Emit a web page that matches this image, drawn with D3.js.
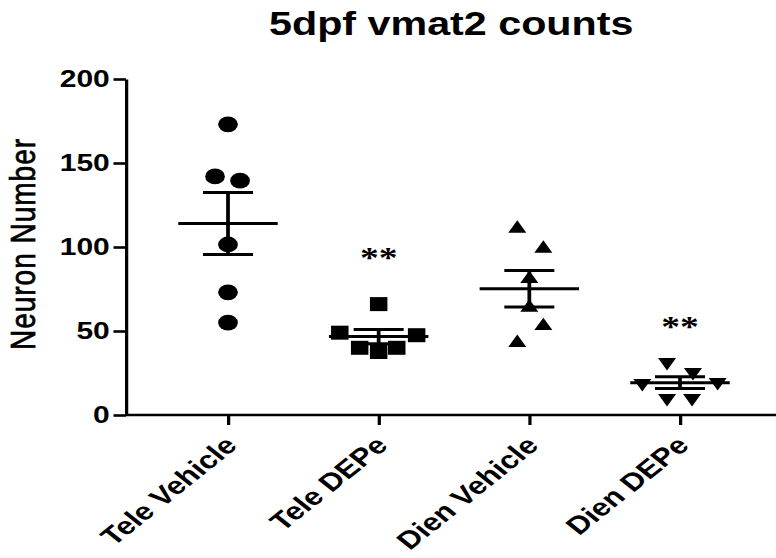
<!DOCTYPE html>
<html lang="en">
<head>
<meta charset="utf-8">
<title>5dpf vmat2 counts</title>
<script src="https://cdn.jsdelivr.net/npm/d3@7"></script>
<style>
  body { margin: 0; background: #fff; }
  .axis path, .axis line { stroke: #000; stroke-width: 2.6; fill: none; }
  .axis text { font-family: "Liberation Sans", Arial, sans-serif; font-weight: bold; font-size: 24px; fill: #000; }
  .axis.x text { font-size: 25px; }
  .title { font-family: "Liberation Sans", Arial, sans-serif; font-weight: bold; font-size: 33px; fill: #000; text-anchor: middle; }
  .ylabel { font-family: "Liberation Sans", Arial, sans-serif; font-size: 28px; letter-spacing: 1px; fill: #000; stroke: #000; stroke-width: 0.6; text-anchor: middle; }
  .stars { font-family: "Liberation Serif", "Times New Roman", serif; font-weight: bold; font-size: 30px; fill: #000; text-anchor: middle; }
  .stat { stroke: #000; stroke-width: 3; }
</style>
</head>
<body>
<script>
var categories = ["Tele Vehicle", "Tele DEPe", "Dien Vehicle", "Dien DEPe"];
var teleVehicle = [173, 142, 139.5, 101.5, 73, 55];
var teleDEPe = [66, 49, 47.5, 40, 37.5, 40];
var dienVehicle = [111, 99, 81, 64, 53, 43];
var dienDEPe = [31.5, 25.5, 19, 19.6, 10, 10];
var yTicks = [0, 50, 100, 150, 200];
var starLabels = ["", "**", "", "**"];
var starValues = [null, 98, null, 57];

// sideways spread of the points in a column, as a share of the column step
var spread = [
  [0, -0.086, 0.08, 0, 0, 0],
  [0, -0.258, 0.252, -0.126, 0, 0.12],
  [-0.08, 0.093, 0, 0, 0.093, -0.08],
  [-0.086, 0.086, -0.25, 0.25, -0.086, 0.08]
];

var series = [teleVehicle, teleDEPe, dienVehicle, dienDEPe];
var shapes = [d3.symbolCircle, d3.symbolSquare, d3.symbolTriangle, d3.symbolTriangle];
var shapeSize = [195, 196, 90, 90];

var w = 776, h = 558;
var sx = 1.25;              // the original is stretched sideways
var iw = w / sx;
var axisX = 100.8;
var plotTop = 79, plotBottom = 415;

var x = d3.scalePoint().domain(categories).range([182.4, 544]);
var y = d3.scaleLinear().domain([0, 200]).range([plotBottom, plotTop]);
var step = x.step();

var svg = d3.select("body").append("svg").attr("width", w).attr("height", h);
var g = svg.append("g").attr("transform", "scale(" + sx + ",1)");

g.append("text").attr("class", "title")
  .attr("x", 361).attr("y", 35)
  .text("5dpf vmat2 counts");

g.append("text").attr("class", "ylabel")
  .attr("transform", "translate(28," + ((plotTop + plotBottom) / 2 - 3) + ") rotate(-90)")
  .text("Neuron Number");

// axes
var yAxis = d3.axisLeft(y).tickValues(yTicks).tickSize(10).tickSizeOuter(0).tickPadding(3);
g.append("g").attr("class", "axis")
  .attr("transform", "translate(" + axisX + ",0)")
  .call(yAxis);

var xAxis = d3.axisBottom(x).tickSize(10).tickSizeOuter(0);
var xg = g.append("g").attr("class", "axis x")
  .attr("transform", "translate(0," + y(0) + ")")
  .call(xAxis);
xg.select(".domain").remove();
xg.append("line").attr("x1", axisX).attr("x2", iw).attr("y1", 0).attr("y2", 0);
xg.selectAll(".tick text")
  .attr("x", 0).attr("y", 0).attr("dy", 0)
  .attr("text-anchor", "end")
  .attr("transform", "translate(8,32) rotate(-45)");

// points, mean and sem
categories.forEach(function(c, i) {
  var vals = series[i];
  var cx = x(c);
  var m = d3.mean(vals);
  var sem = d3.deviation(vals) / Math.sqrt(vals.length);
  var sym = d3.symbol().type(shapes[i]).size(shapeSize[i]);

  g.selectAll(".pt" + i).data(vals).enter().append("path")
    .attr("class", "pt" + i)
    .attr("d", sym)
    .attr("fill", "#000")
    .attr("transform", function(d, j) {
      return "translate(" + (cx + spread[i][j] * step) + "," + y(d) + ")" + (i === 3 ? " rotate(180)" : "");
    });

  g.append("line").attr("class", "stat")
    .attr("x1", cx - 0.33 * step).attr("x2", cx + 0.33 * step)
    .attr("y1", y(m)).attr("y2", y(m));
  g.append("line").attr("class", "stat")
    .attr("x1", cx).attr("x2", cx)
    .attr("y1", y(m + sem)).attr("y2", y(m - sem));
  [m + sem, m - sem].forEach(function(v) {
    g.append("line").attr("class", "stat")
      .attr("x1", cx - 0.166 * step).attr("x2", cx + 0.166 * step)
      .attr("y1", y(v)).attr("y2", y(v));
  });

  if (starValues[i] !== null) {
    g.append("text").attr("class", "stars")
      .attr("x", cx).attr("y", y(starValues[i]))
      .attr("dy", "0.55em")
      .text(starLabels[i]);
  }
});
</script>
</body>
</html>
